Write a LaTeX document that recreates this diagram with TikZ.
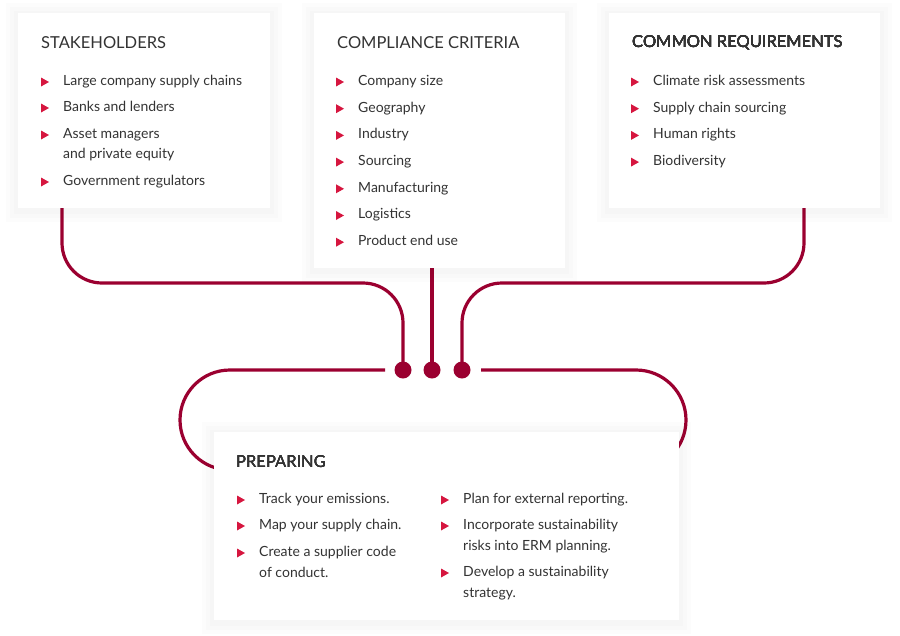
\documentclass[tikz,border=0pt]{standalone}
\usepackage{fontspec}
\setmainfont{Lato}
\definecolor{wine}{HTML}{9B0030}
\definecolor{bulred}{HTML}{D6163F}
\definecolor{ink}{HTML}{333333}
\newcommand{\bulItem}[3]{%%
  %% Bullet triangle and its text.
  \fill[bulred] (#1-4,#2-4.5) -- (#1+4,#2) -- (#1-4,#2+4.5) -- cycle;
  \node[itemStyle] at (#1+18,#2-7) {#3};
}
\newcommand{\softBox}[5]{%%
  %% A white box with a soft halo.
  \foreach \s in {12,8,4}
    \fill[black,opacity=0.01] (#2-\s,#3-\s+2) rectangle (#4+\s,#5+\s+2);
  \node[boxStyle,minimum width=#4-#2,minimum height=#5-#3] (#1) at ({(#2+#4)/2},{(#3+#5)/2}) {};
}
\begin{document}
\begin{tikzpicture}[x=1pt,y=-1pt,%%
  lineStyle/.style={wine,line width=3.2pt},%%
  dotStyle/.style={circle,fill=wine,inner sep=0pt,minimum size=17pt},%%
  boxStyle/.style={fill=white,inner sep=0pt,draw=none},%%
  headStyle/.style={anchor=west,inner sep=0pt,text=ink,font=\fontsize{16.5}{19}\selectfont},%%
  itemStyle/.style={anchor=north west,inner sep=0pt,text=ink,align=left,font=\fontsize{14}{20.5}\selectfont}
]
\useasboundingbox (0,0) rectangle (900,635);
%%
%% Dots where the lines meet.
\node[dotStyle] (dotL) at (403,370) {};
\node[dotStyle] (dotM) at (432,370) {};
\node[dotStyle] (dotR) at (462,370) {};
\coordinate (loopL) at (385,370);
\coordinate (loopR) at (481,370);
%%
%% Lines under the boxes.
\draw[lineStyle,rounded corners=40] (62,190) -- (62,283) -- (403,283) -- (dotL.center);
\draw[lineStyle] (432,250) -- (dotM.center);
\draw[lineStyle,rounded corners=40] (804,190) -- (804,283) -- (462,283) -- (dotR.center);
\draw[lineStyle,rounded corners=50] (loopL) -- (180,370) -- (180,470) -- (260,470);
\draw[lineStyle,rounded corners=50] (loopR) -- (686,370) -- (686,470) -- (600,470);
%%
%% Boxes.
\softBox{stake}{18}{13}{270}{208}
\softBox{crit}{314}{13}{565}{268}
\softBox{req}{609}{13}{880}{208}
\softBox{prep}{214}{432}{679}{620}
%%
%% Stakeholders.
\node[headStyle] (stakeHead) at (41,43) {STAKEHOLDERS};
\bulItem{45}{82}{Large company supply chains}
\bulItem{45}{108}{Banks and lenders}
\bulItem{45}{135}{Asset managers\\and private equity}
\bulItem{45}{182}{Government regulators}
%%
%% Compliance criteria.
\node[headStyle] (critHead) at (337,43) {COMPLIANCE CRITERIA};
\foreach \txt [count=\i from 0] in {Company size,Geography,Industry,Sourcing,Manufacturing,Logistics,Product end use}
  \bulItem{340}{82+26.7*\i}{\txt}
%%
%% Common requirements.
\node[headStyle] (reqHead) at (632,43) {COMMON REQUIREMENTS};
\foreach \txt [count=\i from 0] in {Climate risk assessments,Supply chain sourcing,Human rights,Biodiversity}
  \bulItem{635}{82+26.7*\i}{\txt}
%%
%% Preparing.
\node[headStyle] (prepHead) at (236,462) {PREPARING};
\bulItem{241}{500}{Track your emissions.}
\bulItem{241}{526}{Map your supply chain.}
\bulItem{241}{553}{Create a supplier code\\of conduct.}
\bulItem{445}{500}{Plan for external reporting.}
\bulItem{445}{526}{Incorporate sustainability\\risks into ERM planning.}
\bulItem{445}{573}{Develop a sustainability\\strategy.}
\end{tikzpicture}
\end{document}
